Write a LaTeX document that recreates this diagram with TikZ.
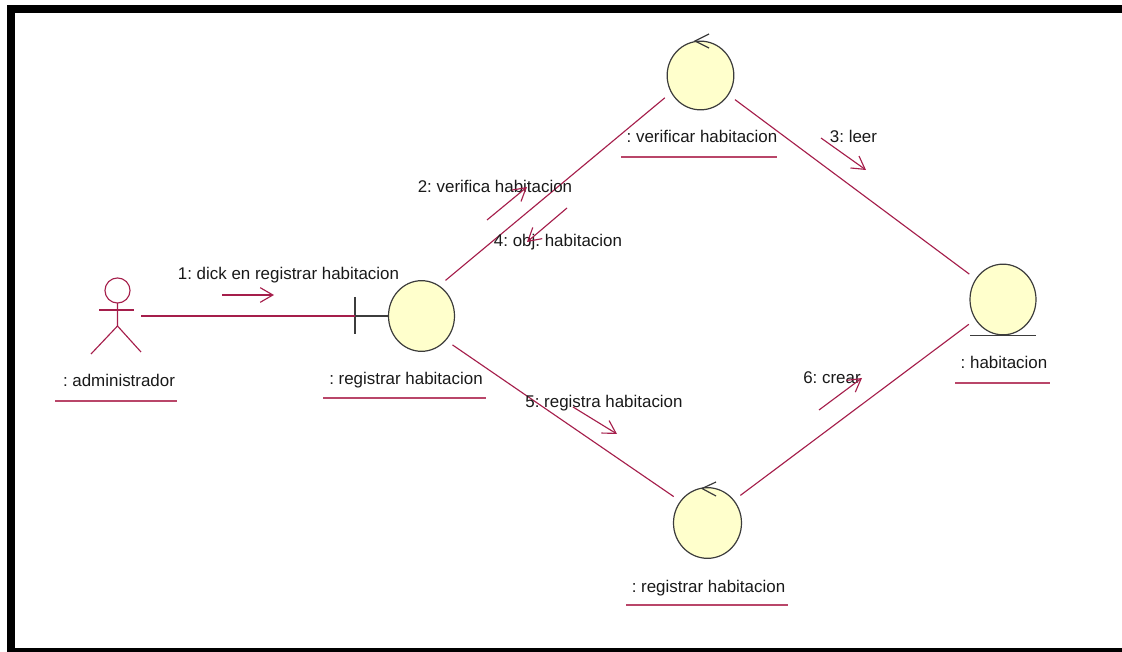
\documentclass[tikz,border=0pt]{standalone}
\usepackage{fontspec}
\setmainfont{Liberation Sans}
\usetikzlibrary{arrows.meta,shapes.geometric}
\definecolor{umlred}{RGB}{165,30,75}
\definecolor{umlline}{RGB}{185,70,105}
\definecolor{umlfill}{RGB}{255,255,204}
\definecolor{umlgray}{RGB}{60,60,60}
\tikzset{
	objcircle/.style 2 args={ellipse, draw=umlgray, fill=umlfill, line width=0.9pt, inner sep=0pt, minimum width=#1, minimum height=#2, outer sep=6.3pt},
	objlabel/.style={font=\fontsize{12.7}{14}\selectfont\frenchspacing, text=black!90, inner sep=0pt, anchor=base},
	objline/.style={color=umlred, line width=0.85pt},
	underline/.style={color=umlline, line width=1.1pt},
	msgline/.style={color=umlred, line width=0.85pt},
	msgarrow/.style={msgline, -{Straight Barb[length=9.5pt,width=11pt]}},
	tickline/.style={color=umlgray, line width=0.9pt},
}
\begin{document}
\begin{tikzpicture}[x=0.75pt, y=-0.75pt]
		%%%%% START %%%%%
		\useasboundingbox (0, 0) rectangle (1122, 652);
		
		% frame
		\fill[black] (7, 5) rectangle (1122, 13);
		\fill[black] (7, 5) rectangle (15, 652);
		\fill[black] (7, 648) rectangle (1122, 652);
		
		% objects
		\node[objcircle={49.5pt}{53pt}] (registrarB) at (421.5, 316) {};
		\node[objcircle={50pt}{51.5pt}] (verificar) at (700.5, 75.5) {};
		\node[objcircle={51pt}{53pt}] (registrarC) at (707.5, 523) {};
		\node[objcircle={49.5pt}{53pt}] (habitacion) at (1003, 299.5) {};
		
		% actor
		\draw[msgline] (117.5, 290.5) circle (9.4pt);
		\draw[msgline] (117.5, 303) -- (117.5, 326) -- (91, 354);
		\draw[msgline] (117.5, 326) -- (141, 352);
		\draw[msgline] (99, 310) -- (134, 310);
		\coordinate (actorhand) at (141, 316);
		
		% boundary, control and entity marks
		\coordinate (boundaryjoin) at (355, 316);
		\draw[tickline] (355, 297) -- (355, 334);
		\draw[objline, line width=1.2pt] (actorhand) -- (boundaryjoin);
		\draw[tickline, shorten >=-6.3pt] (boundaryjoin) -- (registrarB.west);
		\draw[tickline] (970, 335.5) -- (1036, 335.5);
		\draw[tickline] (709, 34) -- (695, 41) -- (709, 48);
		\draw[tickline] (716, 482) -- (702, 488.5) -- (716, 496);
		
		% links
		\draw[objline] (registrarB.56) -- (verificar.212);
		\draw[objline] (verificar.-35) -- (habitacion.143);
		\draw[objline] (registrarB.-43) -- (registrarC.142);
		\draw[objline] (registrarC.40) -- (habitacion.216);
		
		% labels
		\node[objlabel] (lblAdmin) at (119, 387) {: administrador};
		\node[objlabel] (lblRegB) at (406, 385) {: registrar habitacion};
		\node[objlabel] (lblVer) at (702, 143) {: verificar habitacion};
		\node[objlabel] (lblRegC) at (708.5, 592) {: registrar habitacion};
		\node[objlabel] (lblHab) at (1004, 369) {: habitacion};
		\draw[underline] (55, 401) -- (177, 401);
		\draw[underline] (323, 398) -- (486, 398);
		\draw[underline] (621, 157) -- (777, 157);
		\draw[underline] (626, 605) -- (788, 605);
		\draw[underline] (955, 383) -- (1050, 383);
		
		% messages
		\node[objlabel] (msgA) at (288.5, 280) {1: dick en registrar habitacion};
		\node[objlabel] (msgB) at (495, 193) {2: verifica habitacion};
		\node[objlabel] (msgC) at (853.5, 143) {3: leer};
		\node[objlabel] (msgD) at (558, 247) {4: obj. habitacion};
		\node[objlabel] (msgE) at (604, 408) {5: registra habitacion};
		\node[objlabel] (msgF) at (832, 384) {6: crear};
		
		\coordinate (msgAfrom) at (222, 295);
		\coordinate (msgAto) at (274, 295);
		\coordinate (msgBfrom) at (487, 220);
		\coordinate (msgBto) at (527, 187);
		\coordinate (msgCfrom) at (821, 138);
		\coordinate (msgCto) at (866, 170);
		\coordinate (msgDfrom) at (567, 208);
		\coordinate (msgDto) at (527, 242);
		\coordinate (msgEfrom) at (573, 407);
		\coordinate (msgEto) at (617, 434);
		\coordinate (msgFfrom) at (819, 410);
		\coordinate (msgFto) at (862, 378);
		\draw[msgarrow] (msgAfrom) -- (msgAto);
		\draw[msgarrow] (msgBfrom) -- (msgBto);
		\draw[msgarrow] (msgCfrom) -- (msgCto);
		\draw[msgarrow] (msgDfrom) -- (msgDto);
		\draw[msgarrow] (msgEfrom) -- (msgEto);
		\draw[msgarrow] (msgFfrom) -- (msgFto);
		
		%%%%% END %%%%%
	\end{tikzpicture}
\end{document}
